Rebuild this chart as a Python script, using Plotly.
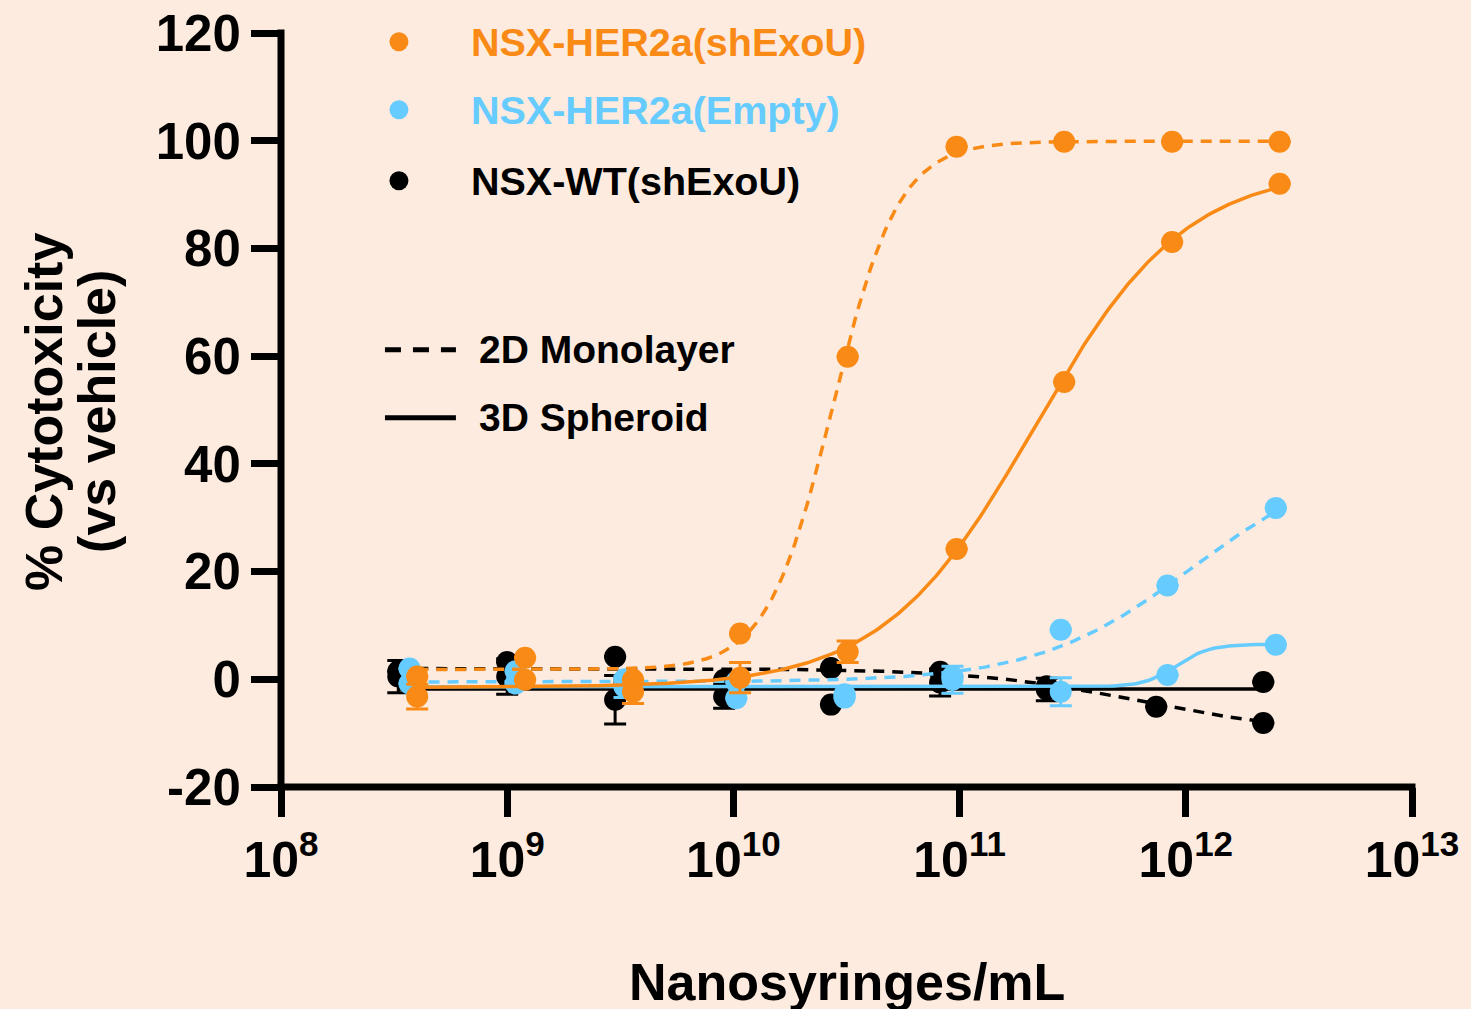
import numpy as np
import plotly.graph_objects as go

# ---------------- data ----------------
conc_orange = [4.0e8, 1.2e9, 3.6e9, 1.07e10, 3.2e10, 9.7e10, 2.9e11, 8.7e11, 2.6e12]
conc_blue = [3.7e8, 1.09e9, 3.3e9, 1.03e10, 3.1e10, 9.3e10, 2.8e11, 8.3e11, 2.5e12]
conc_black = [3.3e8, 1.0e9, 3.0e9, 9.1e9, 2.7e10, 8.2e10, 2.43e11, 7.4e11, 2.2e12]

orange_2d = [0.5, 4.0, -0.1, 8.5, 59.9, 98.9, 99.8, 99.8, 99.8]
orange_2d_err = [0, 0, 0, 0, 0, 0, 0, 0, 0]
orange_3d = [-3.2, -0.1, -2.3, 0.3, 5.1, 24.2, 55.2, 81.2, 92.0]
orange_3d_err = [2.3, 0, 2.2, 2.8, 2.0, 0, 0, 0, 0]

blue_2d = [2.0, 1.5, 0.0, -0.5, -2.8, 0.5, 9.2, 17.4, 31.8]
blue_2d_err = [0, 0, 0, 0, 0, 0, 0, 0, 0]
blue_3d = [-0.8, -0.8, -1.4, -3.5, -3.4, -0.1, -2.3, 0.8, 6.4]
blue_3d_err = [0, 0, 2.0, 0, 0, 2.5, 2.6, 0, 0]

black_2d = [1.5, 3.2, 4.2, -0.1, 2.1, 1.4, -1.3, -5.1, -8.1]
black_2d_err = [0, 0, 0, 0, 0, 0, 0, 0, 0]
black_3d = [0.5, 0.5, -3.8, -3.2, -4.7, -0.6, -1.9, None, -0.5]
black_3d_err = [3.0, 3.3, 4.5, 2.2, 0, 2.5, 2.1, 0, 0]

# fitted 4-parameter logistic curves: [low-dose plateau, high-dose plateau, logEC50, hill]
fit_orange_2d = [1.8, 99.9, 10.44, 3.0]
fit_orange_3d = [-1.5, 95.0, 11.33, 1.3]
fit_blue_2d = [-0.5, 42.0, 12.03, 1.26]
fit_blue_3d = [-1.4, 6.5, 11.96, 6.0]
fit_black_2d = [2.0, -10.0, 11.79, 1.2]
fit_black_3d = [-1.8, -1.8, 11.0, 1.0]

series_names = ["NSX-HER2a(shExoU)", "NSX-HER2a(Empty)", "NSX-WT(shExoU)"]
condition_names = ["2D Monolayer", "3D Spheroid"]
x_tick_exponents = [8, 9, 10, 11, 12, 13]
y_ticks = [-20, 0, 20, 40, 60, 80, 100, 120]
y_tick_labels = ["-20", "0", "20", "40", "60", "80", "100", "120"]

# ---------------- style ----------------
BG = "#FDEBDF"
ORANGE = "#F98A15"
BLUE = "#66CCFF"
BLACK = "#000000"
FONT = "Liberation Sans"
DASH = "11px,8px"


def logistic(params, x):
    low, high, logec50, hill = params
    lx = np.log10(x)
    return low + (high - low) / (1.0 + 10 ** ((logec50 - lx) * hill))


fig = go.Figure()


def add_group(conc, v2d, e2d, v3d, e3d, f2d, f3d, color):
    xs = np.logspace(np.log10(min(conc)), np.log10(max(conc)), 300)
    fig.add_trace(go.Scatter(x=xs, y=logistic(f3d, xs), mode="lines",
                             line=dict(color=color, width=3.5), hoverinfo="skip"))
    fig.add_trace(go.Scatter(x=xs, y=logistic(f2d, xs), mode="lines",
                             line=dict(color=color, width=3.5, dash=DASH), hoverinfo="skip"))
    for vals, errs in ((v2d, e2d), (v3d, e3d)):
        fig.add_trace(go.Scatter(
            x=conc, y=vals, mode="markers",
            marker=dict(color=color, size=22, line=dict(width=0)),
            error_y=dict(type="data", array=errs, visible=True, color=color,
                         thickness=3, width=11),
        ))


add_group(conc_black, black_2d, black_2d_err, black_3d, black_3d_err,
          fit_black_2d, fit_black_3d, BLACK)
add_group(conc_blue, blue_2d, blue_2d_err, blue_3d, blue_3d_err,
          fit_blue_2d, fit_blue_3d, BLUE)
add_group(conc_orange, orange_2d, orange_2d_err, orange_3d, orange_3d_err,
          fit_orange_2d, fit_orange_3d, ORANGE)

# plot-area geometry in pixels
L, R, T, B = 281, 58.5, 33.3, 222
W, H = 1471, 1009
pw = W - L - R
ph = H - T - B


def px(xp):
    return (xp - L) / pw


def py(yp):
    return (H - B - yp) / ph


shapes = []
ext_x = 3.5 / pw
ext_y = 3.5 / ph
# axis lines
shapes.append(dict(type="line", xref="paper", yref="paper", x0=0, x1=0,
                   y0=-ext_y, y1=1 + ext_y, line=dict(color=BLACK, width=7)))
shapes.append(dict(type="line", xref="paper", yref="paper", x0=-ext_x, x1=1 + ext_x,
                   y0=0, y1=0, line=dict(color=BLACK, width=7)))

annotations = []
# series legend (dots + coloured text)
for name, color, ypix in zip(series_names, [ORANGE, BLUE, BLACK], [42, 110, 181]):
    shapes.append(dict(type="circle", xref="paper", yref="paper",
                       xsizemode="pixel", ysizemode="pixel",
                       xanchor=px(399), yanchor=py(ypix),
                       x0=-9.5, x1=9.5, y0=-9.5, y1=9.5,
                       fillcolor=color, line=dict(width=0)))
    annotations.append(dict(text=name, xref="paper", yref="paper", x=px(469), y=py(ypix),
                            xanchor="left", yanchor="middle", showarrow=False,
                            font=dict(family=FONT, size=39.5, color=color, weight="bold")))

# condition legend (line styles)
for name, dash, ypix in zip(condition_names, ["16px,12px", "solid"], [350, 418]):
    shapes.append(dict(type="line", xref="paper", yref="paper",
                       x0=px(385), x1=px(456), y0=py(ypix), y1=py(ypix),
                       line=dict(color=BLACK, width=5, dash=dash)))
    annotations.append(dict(text=name, xref="paper", yref="paper", x=px(477), y=py(ypix),
                            xanchor="left", yanchor="middle", showarrow=False,
                            font=dict(family=FONT, size=39, color=BLACK, weight="bold")))

# axis titles
annotations.append(dict(text="% Cytotoxicity", xref="paper", yref="paper",
                        x=px(44), y=py(412), textangle=-90, xanchor="center", yanchor="middle",
                        showarrow=False, font=dict(family=FONT, size=52, color=BLACK, weight="bold")))
annotations.append(dict(text="(vs vehicle)", xref="paper", yref="paper",
                        x=px(97), y=py(412), textangle=-90, xanchor="center", yanchor="middle",
                        showarrow=False, font=dict(family=FONT, size=52, color=BLACK, weight="bold")))
annotations.append(dict(text="Nanosyringes/mL", xref="paper", yref="paper",
                        x=px(847), y=py(982), xanchor="center", yanchor="middle",
                        showarrow=False, font=dict(family=FONT, size=52, color=BLACK, weight="bold")))

fig.update_layout(
    width=W, height=H,
    margin=dict(l=L, r=R, t=T, b=B, pad=0, autoexpand=False),
    paper_bgcolor=BG, plot_bgcolor=BG,
    showlegend=False,
    shapes=shapes, annotations=annotations,
    font=dict(family=FONT, color=BLACK),
)
fig.update_xaxes(
    type="log", range=[8, 13], automargin=False,
    tickvals=[10.0 ** e for e in x_tick_exponents],
    ticktext=[f"10<sup>{e}</sup>" for e in x_tick_exponents],
    showgrid=False, zeroline=False, showline=False,
    ticks="outside", ticklen=29, tickwidth=7, tickcolor=BLACK,
    tickfont=dict(family=FONT, size=50, color=BLACK, weight="bold"),
)
fig.update_yaxes(
    range=[-20, 120], automargin=False,
    tickvals=y_ticks, ticktext=y_tick_labels,
    showgrid=False, zeroline=False, showline=False,
    ticks="outside", ticklen=29, tickwidth=7, tickcolor=BLACK,
    tickfont=dict(family=FONT, size=51, color=BLACK, weight="bold"),
)

fig.write_html("out.html")
